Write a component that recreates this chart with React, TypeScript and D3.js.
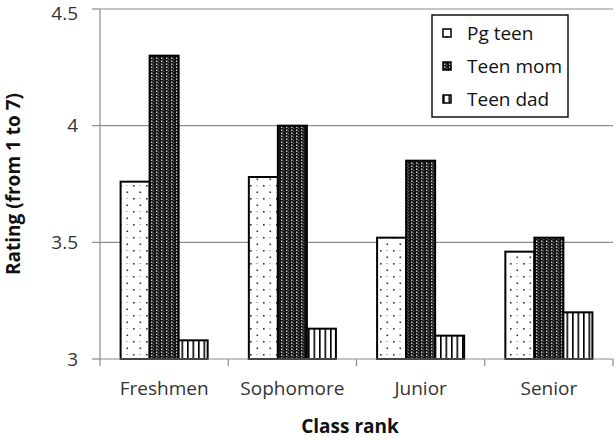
import React from "react";
import * as d3 from "d3";

const categories = ["Freshmen", "Sophomore", "Junior", "Senior"];
const seriesNames = ["Pg teen", "Teen mom", "Teen dad"];
const pgTeen = [3.76, 3.78, 3.52, 3.46];
const teenMom = [4.3, 4.0, 3.85, 3.52];
const teenDad = [3.08, 3.13, 3.1, 3.2];
const yTicks = [3, 3.5, 4, 4.5];

const W = 616;
const H = 440;
const left = 100;
const right = 613;
const top = 9;
const bottom = 359;
const FONT = "'Open Sans', sans-serif";
const FS = 19;

export default function App() {
  const series = [pgTeen, teenMom, teenDad];
  const fills = ["url(#pgDots)", "url(#momDense)", "url(#dadStripes)"];
  const x0 = d3.scaleBand<string>().domain(categories).range([left, right]).paddingInner(0).paddingOuter(0);
  const x1 = d3.scaleBand<string>().domain(seriesNames).range([0, x0.bandwidth()]).paddingInner(0).paddingOuter(0.71);
  const y = d3.scaleLinear().domain([3, 4.5]).range([bottom, top]);
  const grid = "#8c8c8c";

  return (
    <svg width={W} height={H} style={{ position: "absolute", left: 0, top: 0, background: "#fff" }}>
      <defs>
        <pattern id="pgDots" width="13" height="13" patternUnits="userSpaceOnUse">
          <rect width="13" height="13" fill="#fff" />
          <rect x="3" y="3" width="1.6" height="1.6" fill="#333" />
          <rect x="9.5" y="9.5" width="1.6" height="1.6" fill="#333" />
          <rect x="9.5" y="3" width="1" height="1" fill="#777" />
        </pattern>
        <pattern id="momDense" width="5" height="3" patternUnits="userSpaceOnUse">
          <rect width="5" height="3" fill="#111" />
          <rect x="1" y="0.5" width="1.4" height="1.4" fill="#e0e0e0" />
          <rect x="3.2" y="1.7" width="1" height="1" fill="#999" />
        </pattern>
        <pattern id="dadStripes" width="5.5" height="10" patternUnits="userSpaceOnUse">
          <rect width="5.5" height="10" fill="#fff" />
          <rect x="0" y="0" width="1.6" height="10" fill="#000" />
        </pattern>
      </defs>

      {/* gridlines */}
      {yTicks.filter((t) => t > 3).map((t) => (
        <line key={t} x1={left} x2={right} y1={y(t)} y2={y(t)} stroke={grid} strokeWidth={1.2} />
      ))}

      {/* bars */}
      {categories.map((c, ci) =>
        seriesNames.map((s, si) => {
          const v = series[si][ci];
          const bx = (x0(c) as number) + (x1(s) as number);
          return (
            <rect
              key={c + s}
              x={bx}
              y={y(v)}
              width={x1.bandwidth()}
              height={bottom - y(v)}
              fill={fills[si]}
              stroke="#000"
              strokeWidth={2}
            />
          );
        })
      )}

      {/* y axis */}
      <line x1={left} x2={left} y1={top} y2={bottom} stroke={grid} strokeWidth={1.2} />
      {yTicks.map((t) => (
        <g key={t}>
          <line x1={left - 8} x2={left} y1={y(t)} y2={y(t)} stroke={grid} strokeWidth={1.2} />
          <text x={left - 22} y={Math.max(y(t), 13)} dy="0.35em" textAnchor="end" fontFamily={FONT} fontSize={FS} fill="#333">
            {t}
          </text>
        </g>
      ))}

      {/* x axis */}
      <line x1={left} x2={right} y1={bottom} y2={bottom} stroke={grid} strokeWidth={1.2} />
      {categories.map((c) => (
        <line key={c} x1={x0(c)} x2={x0(c)} y1={bottom} y2={bottom + 7} stroke={grid} strokeWidth={1.2} />
      ))}
      <line x1={right} x2={right} y1={bottom} y2={bottom + 7} stroke={grid} strokeWidth={1.2} />
      {categories.map((c) => (
        <text
          key={c}
          x={(x0(c) as number) + x0.bandwidth() / 2}
          y={388}
          dy="0.35em"
          textAnchor="middle"
          fontFamily={FONT}
          fontSize={FS}
          fill="#333"
        >
          {c}
        </text>
      ))}

      {/* axis titles */}
      <text x={350} y={426} dy="0.35em" textAnchor="middle" fontFamily={FONT} fontSize={FS} fontWeight="bold" fill="#111">
        Class rank
      </text>
      <text
        transform={`translate(13,${(top + bottom) / 2}) rotate(-90)`}
        dy="0.35em"
        textAnchor="middle"
        fontFamily={FONT}
        fontSize={FS}
        fontWeight="bold"
        fill="#111"
      >
        Rating (from 1 to 7)
      </text>

      {/* legend */}
      <rect x={432} y={15} width={136} height={102} fill="#fff" stroke="#111" strokeWidth={1.5} />
      {seriesNames.map((s, i) => (
        <g key={s} transform={`translate(443, ${33 + i * 33})`}>
          <rect x={0} y={-4} width={8} height={8} fill={fills[i]} stroke="#000" strokeWidth={1.5} />
          <text x={24} y={0} dy="0.35em" fontFamily={FONT} fontSize={FS} fill="#111">
            {s}
          </text>
        </g>
      ))}
    </svg>
  );
}
